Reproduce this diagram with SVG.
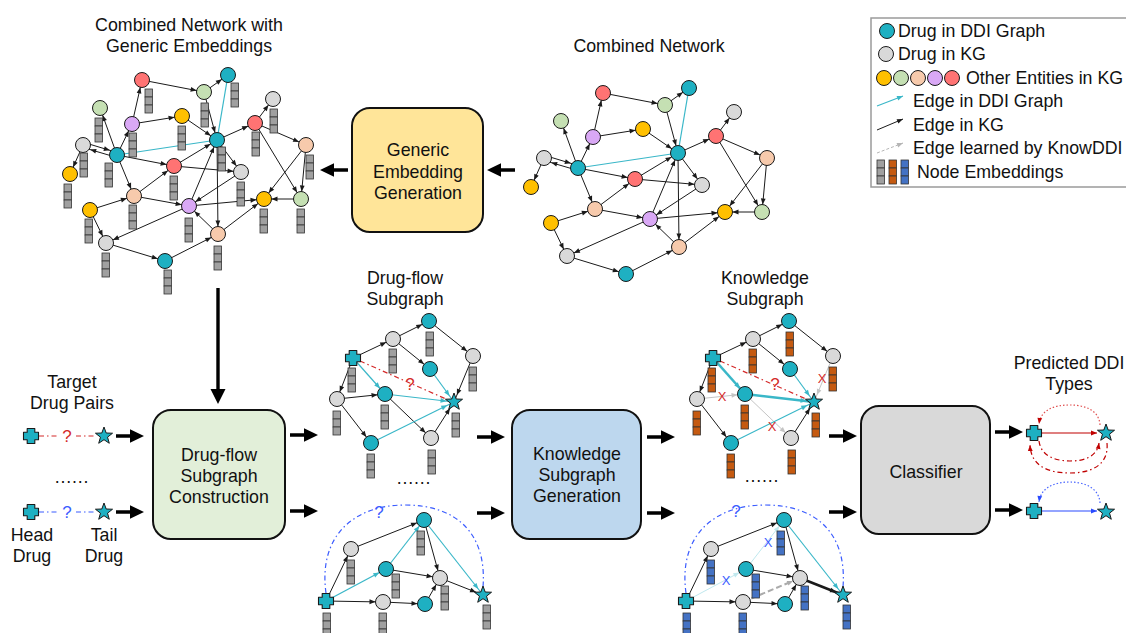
<svg xmlns="http://www.w3.org/2000/svg" width="1126" height="633" viewBox="0 0 1126 633">
<defs>
<style>
text{font-family:"Liberation Sans",Arial,sans-serif;fill:#111}
.t{font-size:17.8px;text-anchor:middle}
.lg{font-size:17.8px}
.n{stroke:#1a1a1a;stroke-width:1}
.teal{fill:#1eb0c2}.gry{fill:#d9d9d9}.yel{fill:#ffc000}.grn{fill:#c5e0b3}.pch{fill:#f7caac}.pur{fill:#d9a8f5}.red{fill:#ff7373}
.cell{stroke:#333;stroke-width:.8}
.eg{fill:#a0a0a0}.eo{fill:#c55a11}.eb{fill:#4472c4}
.box{stroke:#111;stroke-width:2}
.e{stroke:#1a1a1a;stroke-width:1;fill:none;marker-end:url(#ah)}
.c{stroke:#3ab7c8;stroke-width:1.2;fill:none;marker-end:url(#ahc)}
.c0{stroke:#3ab7c8;stroke-width:1.2;fill:none}
.ck{stroke-width:2.6}
.ek{stroke-width:2.6}
.fade{stroke:#c4c4c4;stroke-width:1;fill:none;marker-end:url(#ahf)}
.fadec{stroke:#bfe8ee;stroke-width:1;fill:none;marker-end:url(#ahfc)}
.learn{stroke:#ababab;stroke-width:2;stroke-dasharray:6 3;fill:none;marker-end:url(#ahl)}
.q{stroke-dasharray:5 3 1.5 3;fill:none;stroke-width:1.2}
.qr{stroke:#d42a2a}.qb{stroke:#3b5cff}
.mr{fill:#d42a2a}.mb{fill:#3b5cff}
.mk{font-size:17px;text-anchor:middle}
.x{font-size:13px;text-anchor:middle}
.big{fill:#000}
</style>
<!-- arrowheads that stop at the rim of a 7.5px node -->
<marker id="ah" markerUnits="userSpaceOnUse" markerWidth="6" markerHeight="6" refX="13.5" refY="3" orient="auto" overflow="visible"><path d="M0,0.6 L6,3 L0,5.4Z" fill="#1a1a1a"/></marker>
<marker id="ahc" markerUnits="userSpaceOnUse" markerWidth="6" markerHeight="6" refX="13.5" refY="3" orient="auto" overflow="visible"><path d="M0,0.6 L6,3 L0,5.4Z" fill="#3ab7c8"/></marker>
<marker id="ahf" markerUnits="userSpaceOnUse" markerWidth="6" markerHeight="6" refX="13.5" refY="3" orient="auto" overflow="visible"><path d="M0,0.6 L6,3 L0,5.4Z" fill="#c4c4c4"/></marker>
<marker id="ahfc" markerUnits="userSpaceOnUse" markerWidth="6" markerHeight="6" refX="13.5" refY="3" orient="auto" overflow="visible"><path d="M0,0.6 L6,3 L0,5.4Z" fill="#bfe8ee"/></marker>
<marker id="ahl" markerUnits="userSpaceOnUse" markerWidth="6" markerHeight="6" refX="13.5" refY="3" orient="auto" overflow="visible"><path d="M0,0.6 L6,3 L0,5.4Z" fill="#ababab"/></marker>
<!-- arrowheads whose tip sits on the path end -->
<marker id="tk" markerUnits="userSpaceOnUse" markerWidth="6" markerHeight="6" refX="6" refY="3" orient="auto" overflow="visible"><path d="M0,0.6 L6,3 L0,5.4Z" fill="#1a1a1a"/></marker>
<marker id="tc" markerUnits="userSpaceOnUse" markerWidth="6" markerHeight="6" refX="6" refY="3" orient="auto" overflow="visible"><path d="M0,0.6 L6,3 L0,5.4Z" fill="#3ab7c8"/></marker>
<marker id="tl" markerUnits="userSpaceOnUse" markerWidth="6" markerHeight="6" refX="6" refY="3" orient="auto" overflow="visible"><path d="M0,0.6 L6,3 L0,5.4Z" fill="#b5b5b5"/></marker>
<marker id="tr" markerUnits="userSpaceOnUse" markerWidth="6" markerHeight="6" refX="6" refY="3" orient="auto" overflow="visible"><path d="M0,0.6 L6,3 L0,5.4Z" fill="#c00000"/></marker>
<marker id="tb" markerUnits="userSpaceOnUse" markerWidth="6" markerHeight="6" refX="6" refY="3" orient="auto" overflow="visible"><path d="M0,0.6 L6,3 L0,5.4Z" fill="#2a4bff"/></marker>

<!-- embedding bars: three stacked cells -->
<g id="emb-g"><rect class="cell eg" x="0" y="0" width="7.5" height="8"/><rect class="cell eg" x="0" y="8" width="7.5" height="8"/><rect class="cell eg" x="0" y="16" width="7.5" height="8"/></g>
<g id="emb-o"><rect class="cell eo" x="0" y="0" width="7.5" height="8"/><rect class="cell eo" x="0" y="8" width="7.5" height="8"/><rect class="cell eo" x="0" y="16" width="7.5" height="8"/></g>
<g id="emb-b"><rect class="cell eb" x="0" y="0" width="7.5" height="8"/><rect class="cell eb" x="0" y="8" width="7.5" height="8"/><rect class="cell eb" x="0" y="16" width="7.5" height="8"/></g>

<!-- head drug (cross) and tail drug (star) -->
<path id="plus" d="M-3.8,-7.5 H3.8 V-3.8 H7.5 V3.8 H3.8 V7.5 H-3.8 V3.8 H-7.5 V-3.8 H-3.8 Z" fill="#1eb0c2" stroke="#1a1a1a" stroke-width="1.1" stroke-linejoin="round"/>
<path id="star" d="M0,-9 L2.2,-3 L8.56,-2.78 L3.53,1.15 L5.29,7.28 L0,3.7 L-5.29,7.28 L-3.53,1.15 L-8.56,-2.78 L-2.2,-3 Z" fill="#1eb0c2" stroke="#1a1a1a" stroke-width="1" stroke-linejoin="round"/>

<!-- thick flow arrow, 28px long -->
<path id="big" class="big" d="M0,-1.8 H14 V-6.8 L28,0 L14,6.8 V1.8 H0 Z"/>

<!-- edges of the combined network -->
<g id="net-edges">
<path class="e" d="M603,93 L665,105"/>
<path class="e" d="M665,105 L689,88"/>
<path class="c0" d="M689,88 L678,153"/>
<path class="e" d="M593,137 L603,93"/>
<path class="e" d="M593,137 L643,129"/>
<path class="e" d="M578,168 L561,121"/>
<path class="e" d="M578,168 L593,137"/>
<path class="e" d="M643,129 L678,153"/>
<path class="e" d="M665,105 L678,153"/>
<path class="c0" d="M578,168 L678,153"/>
<path class="e" d="M545,155.5 L578,165.5"/>
<path class="e" d="M578,170.5 L544,160.5"/>
<path class="e" d="M544,158 L531,187"/>
<path class="e" d="M578,168 L635,179"/>
<path class="e" d="M635,179 L678,153"/>
<path class="e" d="M635,179 L702,185"/>
<path class="e" d="M678,153 L716,136"/>
<path class="e" d="M716,136 L734,112"/>
<path class="e" d="M716,136 L767,158"/>
<path class="e" d="M716,136 L762,212"/>
<path class="e" d="M767,158 L762,212"/>
<path class="e" d="M767,158 L725,212"/>
<path class="e" d="M762,212 L725,212"/>
<path class="e" d="M678,153 L702,185"/>
<path class="e" d="M678,153 L679,247"/>
<path class="e" d="M650,219 L678,153"/>
<path class="e" d="M702,185 L650,219"/>
<path class="e" d="M578,168 L595,209"/>
<path class="e" d="M595,209 L635,179"/>
<path class="e" d="M595,209 L650,219"/>
<path class="e" d="M551,223 L595,209"/>
<path class="e" d="M551,223 L567,256"/>
<path class="e" d="M650,219 L567,256"/>
<path class="e" d="M567,256 L626,274"/>
<path class="e" d="M626,274 L679,247"/>
<path class="e" d="M679,247 L650,219"/>
<path class="e" d="M679,247 L725,212"/>
<path class="e" d="M650,219 L725,212"/>
</g>
</defs>

<rect width="1126" height="633" fill="#fff"/>

<!-- ===== Titles ===== -->
<g id="titles">
<text class="t" x="189" y="31">Combined Network with</text>
<text class="t" x="189" y="52">Generic Embeddings</text>
<text class="t" x="649" y="52">Combined Network</text>
<text class="t" x="405" y="284">Drug-flow</text>
<text class="t" x="405" y="305">Subgraph</text>
<text class="t" x="765" y="284">Knowledge</text>
<text class="t" x="765" y="305">Subgraph</text>
<text class="t" x="1069" y="369">Predicted DDI</text>
<text class="t" x="1069" y="390">Types</text>
<text class="t" x="72" y="388">Target</text>
<text class="t" x="72" y="409">Drug Pairs</text>
<text class="t" x="32" y="541">Head</text>
<text class="t" x="32" y="562">Drug</text>
<text class="t" x="104" y="541">Tail</text>
<text class="t" x="104" y="562">Drug</text>
<text class="t" x="72" y="483" letter-spacing="0.8">......</text>
<text class="t" x="414" y="484" letter-spacing="0.8">......</text>
<text class="t" x="762" y="482" letter-spacing="0.8">......</text>
</g>

<!-- ===== Legend ===== -->
<g id="legend">
<rect x="871" y="18" width="262" height="169" fill="#fff" stroke="#9a9a9a" stroke-width="1.5"/>
<circle class="n teal" cx="887" cy="31" r="7.5"/>
<text class="lg" x="898" y="37">Drug in DDI Graph</text>
<circle class="n gry" cx="886" cy="54" r="7.5"/>
<text class="lg" x="898" y="60">Drug in KG</text>
<circle class="n yel" cx="884" cy="78" r="7.5"/>
<circle class="n grn" cx="901" cy="78" r="7.5"/>
<circle class="n pch" cx="918" cy="78" r="7.5"/>
<circle class="n pur" cx="935" cy="78" r="7.5"/>
<circle class="n red" cx="952" cy="78" r="7.5"/>
<text class="lg" x="966" y="84">Other Entities in KG</text>
<path d="M877,106 L903,96" stroke="#3ab7c8" stroke-width="1.2" marker-end="url(#tc)"/>
<text class="lg" x="913" y="107">Edge in DDI Graph</text>
<path d="M877,130 L903,119" stroke="#1a1a1a" stroke-width="1" marker-end="url(#tk)"/>
<text class="lg" x="913" y="131">Edge in KG</text>
<path d="M877,153 L903,143" stroke="#b5b5b5" stroke-width="1" stroke-dasharray="3 2" marker-end="url(#tl)"/>
<text class="lg" x="913" y="154">Edge learned by KnowDDI</text>
<use href="#emb-g" x="877" y="160"/>
<use href="#emb-o" x="889" y="160"/>
<use href="#emb-b" x="901" y="160"/>
<text class="lg" x="917" y="178">Node Embeddings</text>
</g>

<!-- ===== Combined network (plain) ===== -->
<g id="combined-network">
<g id="cn-edges"><use href="#net-edges"/></g>
<g id="cn-r1"><circle class="n red" cx="603" cy="93" r="7.5"/></g>
<g id="cn-gT"><circle class="n grn" cx="665" cy="105" r="7.5"/></g>
<g id="cn-tT"><circle class="n teal" cx="689" cy="88" r="7.5"/></g>
<g id="cn-gL"><circle class="n grn" cx="561" cy="121" r="7.5"/></g>
<g id="cn-pU"><circle class="n pur" cx="593" cy="137" r="7.5"/></g>
<g id="cn-yM"><circle class="n yel" cx="643" cy="129" r="7.5"/></g>
<g id="cn-wTR"><circle class="n gry" cx="734" cy="112" r="7.5"/></g>
<g id="cn-rR"><circle class="n red" cx="716" cy="136" r="7.5"/></g>
<g id="cn-wL"><circle class="n gry" cx="544" cy="158" r="7.5"/></g>
<g id="cn-tCL"><circle class="n teal" cx="578" cy="168" r="7.5"/></g>
<g id="cn-tC"><circle class="n teal" cx="678" cy="153" r="7.5"/></g>
<g id="cn-kR"><circle class="n pch" cx="767" cy="158" r="7.5"/></g>
<g id="cn-yL"><circle class="n yel" cx="531" cy="187" r="7.5"/></g>
<g id="cn-rM"><circle class="n red" cx="635" cy="179" r="7.5"/></g>
<g id="cn-wMR"><circle class="n gry" cx="702" cy="185" r="7.5"/></g>
<g id="cn-kML"><circle class="n pch" cx="595" cy="209" r="7.5"/></g>
<g id="cn-yM2"><circle class="n yel" cx="551" cy="223" r="7.5"/></g>
<g id="cn-pM"><circle class="n pur" cx="650" cy="219" r="7.5"/></g>
<g id="cn-yR"><circle class="n yel" cx="725" cy="212" r="7.5"/></g>
<g id="cn-gR"><circle class="n grn" cx="762" cy="212" r="7.5"/></g>
<g id="cn-wBL"><circle class="n gry" cx="567" cy="256" r="7.5"/></g>
<g id="cn-kB"><circle class="n pch" cx="679" cy="247" r="7.5"/></g>
<g id="cn-tB"><circle class="n teal" cx="626" cy="274" r="7.5"/></g>
</g>

<!-- ===== Combined network with generic embeddings (same layout, shifted) ===== -->
<g id="embedded-network" transform="translate(-461,-13)">
<g id="en-edges"><use href="#net-edges"/></g>
<g id="en-r1"><circle class="n red" cx="603" cy="93" r="7.5"/><use href="#emb-g" x="606" y="102"/></g>
<g id="en-gT"><circle class="n grn" cx="665" cy="105" r="7.5"/><use href="#emb-g" x="662" y="116"/></g>
<g id="en-tT"><circle class="n teal" cx="689" cy="88" r="7.5"/><use href="#emb-g" x="692" y="96"/></g>
<g id="en-gL"><circle class="n grn" cx="561" cy="121" r="7.5"/><use href="#emb-g" x="556" y="131"/></g>
<g id="en-pU"><circle class="n pur" cx="593" cy="137" r="7.5"/><use href="#emb-g" x="590" y="146"/></g>
<g id="en-yM"><circle class="n yel" cx="643" cy="129" r="7.5"/><use href="#emb-g" x="639" y="139"/></g>
<g id="en-wTR"><circle class="n gry" cx="734" cy="112" r="7.5"/><use href="#emb-g" x="731" y="122"/></g>
<g id="en-rR"><circle class="n red" cx="716" cy="136" r="7.5"/><use href="#emb-g" x="713" y="145"/></g>
<g id="en-wL"><circle class="n gry" cx="544" cy="158" r="7.5"/><use href="#emb-g" x="541" y="166"/></g>
<g id="en-tCL"><circle class="n teal" cx="578" cy="168" r="7.5"/><use href="#emb-g" x="566" y="176"/></g>
<g id="en-tC"><circle class="n teal" cx="678" cy="153" r="7.5"/><use href="#emb-g" x="679" y="160"/></g>
<g id="en-kR"><circle class="n pch" cx="767" cy="158" r="7.5"/><use href="#emb-g" x="767" y="168"/></g>
<g id="en-yL"><circle class="n yel" cx="531" cy="187" r="7.5"/><use href="#emb-g" x="525" y="197"/></g>
<g id="en-rM"><circle class="n red" cx="635" cy="179" r="7.5"/><use href="#emb-g" x="631" y="189"/></g>
<g id="en-wMR"><circle class="n gry" cx="702" cy="185" r="7.5"/><use href="#emb-g" x="698" y="195"/></g>
<g id="en-kML"><circle class="n pch" cx="595" cy="209" r="7.5"/><use href="#emb-g" x="590" y="218"/></g>
<g id="en-yM2"><circle class="n yel" cx="551" cy="223" r="7.5"/><use href="#emb-g" x="546" y="232"/></g>
<g id="en-pM"><circle class="n pur" cx="650" cy="219" r="7.5"/><use href="#emb-g" x="646" y="231"/></g>
<g id="en-yR"><circle class="n yel" cx="725" cy="212" r="7.5"/><use href="#emb-g" x="721" y="222"/></g>
<g id="en-gR"><circle class="n grn" cx="762" cy="212" r="7.5"/><use href="#emb-g" x="758" y="222"/></g>
<g id="en-wBL"><circle class="n gry" cx="567" cy="256" r="7.5"/><use href="#emb-g" x="563" y="266"/></g>
<g id="en-kB"><circle class="n pch" cx="679" cy="247" r="7.5"/><use href="#emb-g" x="675" y="259"/></g>
<g id="en-tB"><circle class="n teal" cx="626" cy="274" r="7.5"/><use href="#emb-g" x="625" y="283"/></g>
</g>

<!-- ===== Process boxes ===== -->
<g id="box-generic">
<rect class="box" x="352" y="108" width="131" height="124" rx="18" fill="#ffe599"/>
<text class="t" x="418" y="156">Generic</text>
<text class="t" x="418" y="177.5">Embedding</text>
<text class="t" x="418" y="199">Generation</text>
</g>
<g id="box-drugflow">
<rect class="box" x="153" y="410" width="132" height="129" rx="18" fill="#e2efd9"/>
<text class="t" x="219" y="461">Drug-flow</text>
<text class="t" x="219" y="482">Subgraph</text>
<text class="t" x="219" y="503">Construction</text>
</g>
<g id="box-knowledge">
<rect class="box" x="512" y="410" width="129" height="129" rx="18" fill="#bdd7ee"/>
<text class="t" x="577" y="460">Knowledge</text>
<text class="t" x="577" y="481">Subgraph</text>
<text class="t" x="577" y="502">Generation</text>
</g>
<g id="box-classifier">
<rect class="box" x="861" y="406" width="129" height="128" rx="18" fill="#d9d9d9"/>
<text class="t" x="926" y="478">Classifier</text>
</g>

<!-- ===== Flow arrows ===== -->
<g id="flow-arrows">
<use href="#big" transform="translate(515,170) rotate(180)"/>
<use href="#big" transform="translate(348,170) rotate(180)"/>
<path class="big" d="M216.3,288 H219.7 V389 H225.5 L218,404 L210.5,389 H216.3 Z"/>
<use href="#big" transform="translate(116,436)"/>
<use href="#big" transform="translate(116,512)"/>
<use href="#big" transform="translate(290,435)"/>
<use href="#big" transform="translate(290,511)"/>
<use href="#big" transform="translate(477,437)"/>
<use href="#big" transform="translate(477,513)"/>
<use href="#big" transform="translate(647,437)"/>
<use href="#big" transform="translate(647,513)"/>
<use href="#big" transform="translate(829,436)"/>
<use href="#big" transform="translate(829,512)"/>
<use href="#big" transform="translate(995,432)"/>
<use href="#big" transform="translate(995,510)"/>
</g>

<!-- ===== Target drug pairs ===== -->
<g id="target-pairs">
<g id="tp-links">
<path class="q qr" d="M39,436 H58 M76,436 H95"/>
<text class="mk mr" x="67" y="442">?</text>
<path class="q qb" d="M39,512 H58 M76,512 H95"/>
<text class="mk mb" x="67" y="518">?</text>
</g>
<g id="tp-head1"><use href="#plus" x="31" y="436"/></g>
<g id="tp-tail1"><use href="#star" x="104" y="436"/></g>
<g id="tp-head2"><use href="#plus" x="31" y="512"/></g>
<g id="tp-tail2"><use href="#star" x="104" y="512"/></g>
</g>

<!-- ===== Drug-flow subgraph (upper) ===== -->
<g id="drugflow-1">
<g id="df1-edges">
<path class="e" d="M353,358 L393,339"/>
<path class="e" d="M393,339 L429,321"/>
<path class="e" d="M393,339 L430,369"/>
<path class="e" d="M429,321 L473,356"/>
<path class="e" d="M473,356 L454,402"/>
<path class="e" d="M353,358 L337,399"/>
<path class="e" d="M337,399 L385,394"/>
<path class="e" d="M337,399 L371,443"/>
<path class="e" d="M385,394 L431,438"/>
<path class="e" d="M431,438 L454,402"/>
<path class="c" d="M353,358 L385,394"/>
<path class="c" d="M385,394 L454,402"/>
<path class="c" d="M430,369 L454,402"/>
<path class="c" d="M371,443 L454,402"/>
<path class="q qr" d="M360,361 L446,399"/>
<text class="mk mr" x="410" y="390">?</text>
</g>
<g id="df1-head"><use href="#plus" x="353" y="358"/><use href="#emb-g" x="348" y="368"/></g>
<g id="df1-a"><circle class="n gry" cx="393" cy="339" r="7.5"/><use href="#emb-g" x="389" y="349"/></g>
<g id="df1-b"><circle class="n teal" cx="429" cy="321" r="7.5"/><use href="#emb-g" x="426" y="332"/></g>
<g id="df1-c"><circle class="n teal" cx="430" cy="369" r="7.5"/></g>
<g id="df1-d"><circle class="n gry" cx="473" cy="356" r="7.5"/><use href="#emb-g" x="469" y="367"/></g>
<g id="df1-e"><circle class="n gry" cx="337" cy="399" r="7.5"/><use href="#emb-g" x="333" y="411"/></g>
<g id="df1-f"><circle class="n teal" cx="385" cy="394" r="7.5"/><use href="#emb-g" x="381" y="405"/></g>
<g id="df1-g"><circle class="n teal" cx="371" cy="443" r="7.5"/><use href="#emb-g" x="367" y="454"/></g>
<g id="df1-h"><circle class="n gry" cx="431" cy="438" r="7.5"/><use href="#emb-g" x="428" y="450"/></g>
<g id="df1-tail"><use href="#star" x="454" y="402"/><use href="#emb-g" x="452" y="413"/></g>
</g>

<!-- ===== Knowledge subgraph (upper) ===== -->
<g id="knowledge-1">
<g id="ks1-edges">
<path class="e" d="M713,358 L753,339"/>
<path class="e" d="M753,339 L789,321"/>
<path class="e" d="M753,339 L790,369"/>
<path class="e" d="M789,321 L833,356"/>
<path class="fade" d="M833,356 L814,402"/>
<path class="e" d="M713,358 L697,399"/>
<path class="fade" d="M697,399 L745,394"/>
<path class="e" d="M697,399 L731,443"/>
<path class="fade" d="M745,394 L791,438"/>
<path class="e" d="M791,438 L814,402"/>
<path class="c ck" d="M713,358 L745,394"/>
<path class="c ck" d="M745,394 L814,402"/>
<path class="c" d="M790,369 L814,402"/>
<path class="c" d="M731,443 L814,402"/>
<path class="q qr" d="M720,361 L806,399"/>
<text class="mk mr" x="775" y="390">?</text>
<text class="x mr" x="722" y="401">X</text>
<text class="x mr" x="772" y="431">X</text>
<text class="x mr" x="822" y="383">X</text>
</g>
<g id="ks1-head"><use href="#plus" x="713" y="358"/><use href="#emb-o" x="708" y="368"/></g>
<g id="ks1-a"><circle class="n gry" cx="753" cy="339" r="7.5"/><use href="#emb-o" x="749" y="349"/></g>
<g id="ks1-b"><circle class="n teal" cx="789" cy="321" r="7.5"/><use href="#emb-o" x="786" y="332"/></g>
<g id="ks1-c"><circle class="n teal" cx="790" cy="369" r="7.5"/></g>
<g id="ks1-d"><circle class="n gry" cx="833" cy="356" r="7.5"/><use href="#emb-o" x="829" y="367"/></g>
<g id="ks1-e"><circle class="n gry" cx="697" cy="399" r="7.5"/><use href="#emb-o" x="693" y="411"/></g>
<g id="ks1-f"><circle class="n teal" cx="745" cy="394" r="7.5"/><use href="#emb-o" x="741" y="405"/></g>
<g id="ks1-g"><circle class="n teal" cx="731" cy="443" r="7.5"/><use href="#emb-o" x="727" y="454"/></g>
<g id="ks1-h"><circle class="n gry" cx="791" cy="438" r="7.5"/><use href="#emb-o" x="788" y="450"/></g>
<g id="ks1-tail"><use href="#star" x="814" y="402"/><use href="#emb-o" x="812" y="413"/></g>
</g>

<!-- ===== Drug-flow subgraph (lower) ===== -->
<g id="drugflow-2">
<g id="df2-edges">
<path class="q qb" d="M326,593 C318,535 355,505 405,505 C458,505 487,535 483,587"/>
<text class="mk mb" x="379" y="518">?</text>
<path class="e" d="M326,601 L351,549"/>
<path class="e" d="M351,549 L424,520"/>
<path class="c" d="M326,601 L386,569"/>
<path class="c" d="M386,569 L424,520"/>
<path class="c" d="M424,520 L483,595"/>
<path class="e" d="M424,520 L440,578"/>
<path class="e" d="M386,569 L440,578"/>
<path class="e" d="M440,578 L483,595"/>
<path class="e" d="M326,601 L383,602"/>
<path class="e" d="M383,602 L425,604"/>
<path class="e" d="M425,604 L440,578"/>
</g>
<g id="df2-head"><use href="#plus" x="326" y="601"/><use href="#emb-g" x="323" y="613"/></g>
<g id="df2-a"><circle class="n gry" cx="351" cy="549" r="7.5"/><use href="#emb-g" x="347" y="560"/></g>
<g id="df2-b"><circle class="n teal" cx="424" cy="520" r="7.5"/><use href="#emb-g" x="417" y="531"/></g>
<g id="df2-c"><circle class="n teal" cx="386" cy="569" r="7.5"/><use href="#emb-g" x="392" y="574"/></g>
<g id="df2-d"><circle class="n gry" cx="440" cy="578" r="7.5"/><use href="#emb-g" x="441" y="586"/></g>
<g id="df2-e"><circle class="n gry" cx="383" cy="602" r="7.5"/><use href="#emb-g" x="379" y="613"/></g>
<g id="df2-f"><circle class="n teal" cx="425" cy="604" r="7.5"/></g>
<g id="df2-tail"><use href="#star" x="483" y="595"/><use href="#emb-g" x="483" y="605"/></g>
</g>

<!-- ===== Knowledge subgraph (lower) ===== -->
<g id="knowledge-2">
<g id="ks2-edges">
<path class="q qb" d="M686,593 C678,535 715,505 765,505 C818,505 847,535 843,587"/>
<text class="mk mb" x="736" y="517">?</text>
<path class="e" d="M686,601 L711,549"/>
<path class="e" d="M711,549 L784,520"/>
<path class="fadec" d="M686,601 L746,569"/>
<path class="fadec" d="M746,569 L784,520"/>
<path class="c" d="M784,520 L843,595"/>
<path class="e" d="M784,520 L800,578"/>
<path class="e" d="M746,569 L800,578"/>
<path class="e ek" d="M800,578 L843,595"/>
<path class="e" d="M686,601 L743,602"/>
<path class="e" d="M743,602 L785,604"/>
<path class="e" d="M785,604 L800,578"/>
<path class="learn" d="M743,602 L800,578"/>
<text class="x mb" x="726" y="585">X</text>
<text class="x mb" x="768" y="547">X</text>
</g>
<g id="ks2-head"><use href="#plus" x="686" y="601"/><use href="#emb-b" x="683" y="613"/></g>
<g id="ks2-a"><circle class="n gry" cx="711" cy="549" r="7.5"/><use href="#emb-b" x="707" y="560"/></g>
<g id="ks2-b"><circle class="n teal" cx="784" cy="520" r="7.5"/><use href="#emb-b" x="777" y="531"/></g>
<g id="ks2-c"><circle class="n teal" cx="746" cy="569" r="7.5"/><use href="#emb-b" x="752" y="574"/></g>
<g id="ks2-d"><circle class="n gry" cx="800" cy="578" r="7.5"/><use href="#emb-b" x="801" y="586"/></g>
<g id="ks2-e"><circle class="n gry" cx="743" cy="602" r="7.5"/><use href="#emb-b" x="739" y="613"/></g>
<g id="ks2-f"><circle class="n teal" cx="785" cy="604" r="7.5"/></g>
<g id="ks2-tail"><use href="#star" x="843" y="595"/><use href="#emb-b" x="843" y="605"/></g>
</g>

<!-- ===== Predicted DDI types ===== -->
<g id="predicted">
<g id="pred-edges">
<path d="M1042,433 L1097,433" stroke="#c00000" stroke-width="1.2" fill="none" marker-end="url(#tr)"/>
<path d="M1100,425 C1099,409 1083,405 1070,405 C1055,405 1041,409 1039,424" stroke="#e05050" stroke-width="1.2" stroke-dasharray="1.5 2" fill="none" marker-end="url(#tr)"/>
<path class="q" d="M1039,441 C1041,457 1057,461 1070,461 C1084,461 1097,457 1099,443" stroke="#c00000" marker-end="url(#tr)"/>
<path class="q" d="M1107,443 C1109,466 1090,473 1070,473 C1048,473 1031,466 1030,445" stroke="#c00000" stroke-width="1.5" marker-end="url(#tr)"/>
<path d="M1042,511 L1097,511" stroke="#2a4bff" stroke-width="1.2" fill="none" marker-end="url(#tb)"/>
<path d="M1100,503 C1099,487 1083,482 1070,482 C1055,482 1041,487 1039,502" stroke="#4a66ff" stroke-width="1.2" stroke-dasharray="1.5 2" fill="none" marker-end="url(#tb)"/>
</g>
<g id="pred-head1"><use href="#plus" x="1034" y="433"/></g>
<g id="pred-tail1"><use href="#star" x="1106" y="433"/></g>
<g id="pred-head2"><use href="#plus" x="1034" y="511"/></g>
<g id="pred-tail2"><use href="#star" x="1106" y="512"/></g>
</g>
</svg>
